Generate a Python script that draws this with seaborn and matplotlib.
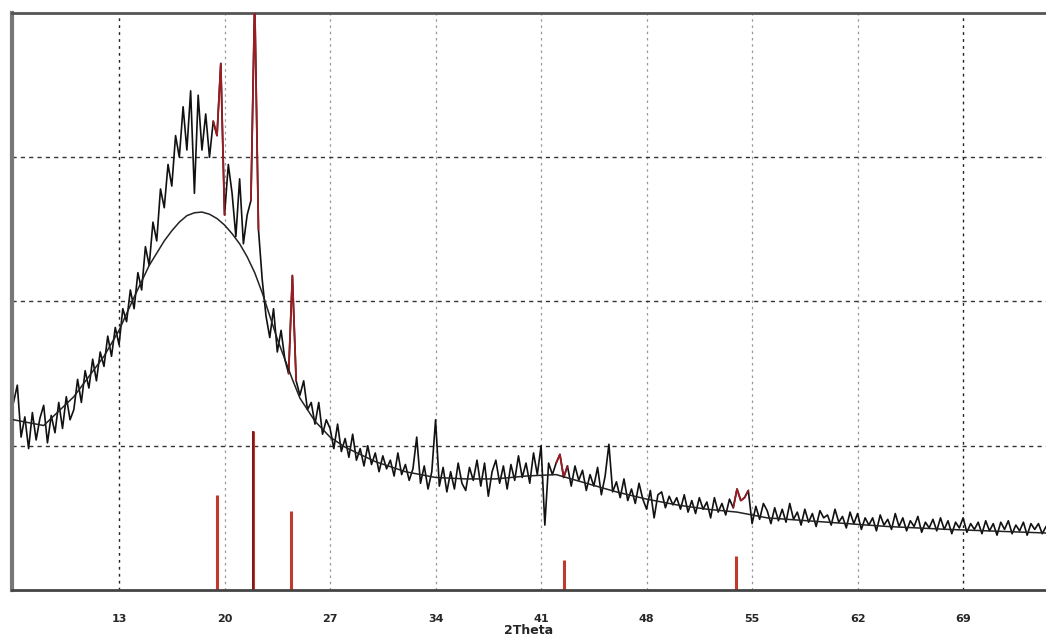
import numpy as np
import pandas as pd
import seaborn as sns
import matplotlib.pyplot as plt

# XRD pattern, counts every 0.25 deg from 6.0 to 74.5
start_2theta = 6.0
step_2theta = 0.25
counts = [
    1300, 1420, 1060, 1200,   # 6
    980, 1230, 1040, 1190,    # 7
    1280, 1020, 1210, 1090,   # 8
    1300, 1120, 1340, 1180,   # 9
    1250, 1460, 1300, 1520,   # 10
    1400, 1600, 1450, 1650,   # 11
    1550, 1760, 1620, 1820,   # 12
    1700, 1950, 1860, 2080,   # 13
    1950, 2200, 2080, 2380,   # 14
    2250, 2550, 2420, 2780,   # 15
    2650, 2950, 2800, 3150,   # 16
    3000, 3350, 3050, 3460,   # 17
    2750, 3430, 3050, 3300,   # 18
    3000, 3250, 3150, 3650,   # 19
    2600, 2950, 2750, 2450,   # 20
    2850, 2400, 2600, 2700,   # 21
    4100, 2500, 2150, 1900,   # 22
    1750, 1950, 1650, 1800,   # 23
    1600, 1500, 2180, 1450,   # 24
    1350, 1450, 1250, 1300,   # 25
    1150, 1300, 1080, 1180,   # 26
    1120, 980, 1150, 960,     # 27
    1050, 920, 1080, 900,     # 28
    980, 860, 1000, 870,      # 29
    950, 820, 930, 840,       # 30
    900, 790, 950, 800,       # 31
    870, 760, 840, 1060,      # 32
    740, 860, 700, 820,       # 33
    1180, 720, 850, 680,      # 34
    820, 700, 880, 740,       # 35
    690, 850, 760, 900,       # 36
    720, 880, 650, 820,       # 37
    900, 740, 860, 700,       # 38
    870, 760, 930, 780,       # 39
    880, 740, 950, 800,       # 40
    1000, 450, 880, 800,      # 41
    880, 940, 780, 860,       # 42
    720, 860, 760, 830,       # 43
    690, 800, 720, 850,       # 44
    660, 790, 1010, 680,      # 45
    750, 640, 770, 620,       # 46
    700, 600, 740, 630,       # 47
    560, 690, 500, 660,       # 48
    680, 570, 650, 590,       # 49
    640, 560, 660, 540,       # 50
    620, 530, 640, 560,       # 51
    610, 500, 640, 540,       # 52
    600, 520, 630, 570,       # 53
    700, 620, 640, 690,       # 54
    460, 580, 490, 600,       # 55
    550, 460, 570, 480,       # 56
    560, 470, 600, 490,       # 57
    540, 450, 560, 470,       # 58
    530, 440, 550, 500,       # 59
    520, 450, 560, 470,       # 60
    510, 430, 540, 460,       # 61
    530, 420, 500, 450,       # 62
    500, 410, 520, 450,       # 63
    490, 420, 530, 440,       # 64
    500, 410, 480, 440,       # 65
    510, 400, 470, 430,       # 66
    490, 410, 500, 420,       # 67
    480, 390, 470, 430,       # 68
    500, 400, 460, 420,       # 69
    470, 390, 480, 410,       # 70
    460, 380, 470, 420,       # 71
    480, 390, 450, 410,       # 72
    470, 380, 460, 420,       # 73
    460, 390, 440,            # 74
]

# smooth amorphous background
bg_2theta = [6, 8, 10, 12, 13, 14, 15, 16, 16.5, 17, 17.5, 18, 18.5, 19, 19.5, 20,
             20.5, 21, 21.5, 22, 22.5, 23, 23.5, 24, 24.5, 25, 26, 27, 28, 30, 32,
             34, 36, 38, 40, 42, 44, 46, 48, 50, 52, 54, 56, 60, 64, 68, 74.5]
bg_counts = [1180, 1140, 1340, 1620, 1800, 2030, 2250, 2420, 2490, 2550, 2595, 2615,
             2620, 2605, 2575, 2530, 2470, 2400, 2310, 2200, 2060, 1900, 1740, 1600,
             1460, 1330, 1170, 1060, 990, 890, 820, 780, 770, 770, 790, 800, 740,
             680, 630, 590, 560, 540, 500, 470, 440, 420, 395]

# reference phase sticks
ref_2theta = [19.5, 21.9, 24.4, 42.5, 53.9]
ref_counts = [660, 1100, 550, 210, 235]

# parts of the pattern drawn in red (matched peaks)
peak_ranges = [(19.25, 20.0), (21.75, 22.25), (24.25, 24.75), (42.0, 42.75), (53.75, 54.75)]

tick_vals = [13, 20, 27, 34, 41, 48, 55, 62, 69]

df = pd.DataFrame({"2Theta": start_2theta + step_2theta * np.arange(len(counts)),
                   "counts": counts})
bg = pd.DataFrame({"2Theta": bg_2theta, "counts": bg_counts})

sns.set_style("white")
fig = plt.figure(figsize=(10.46, 6.37), dpi=100)
ax = fig.add_axes([0.0115, 0.0738, 0.9885, 0.9058])

# grid
for t in tick_vals:
    dark = t in (13, 69)
    ax.axvline(t, color="#222222" if dark else "#999999", ls=(0, (2, 3)),
               lw=1.0 if dark else 0.9, zorder=0)
for g in [1000, 2000, 3000]:
    ax.axhline(g, color="#333333", ls=(0, (3, 3)), lw=1.0, zorder=0)

ax.vlines(ref_2theta, 0, ref_counts, colors="#c0392b", lw=2.2, zorder=1)
ax.vlines([21.9], 0, [1100], colors="#7a0f14", lw=1.2, zorder=1)

sns.lineplot(data=df, x="2Theta", y="counts", color="#111111", lw=1.2, ax=ax, zorder=2)
for lo, hi in peak_ranges:
    part = df[(df["2Theta"] >= lo) & (df["2Theta"] <= hi)]
    sns.lineplot(data=part, x="2Theta", y="counts", color="#9b1c22", lw=1.3, ax=ax, zorder=3)
sns.lineplot(data=bg, x="2Theta", y="counts", color="#222222", lw=1.1, ax=ax, zorder=4)

ax.set_xlim(5.9, 74.5)
ax.set_ylim(0, 4000)
ax.set_xticks(tick_vals)
ax.set_xticklabels([str(t) for t in tick_vals], fontsize=8, fontweight="bold")
ax.set_yticks([])
ax.tick_params(axis="x", direction="out", length=8, width=1, color="#333333", pad=9)
ax.set_xlabel("2Theta", fontsize=9, fontweight="bold", labelpad=0)
ax.set_ylabel("")

for side in ["left", "bottom", "top"]:
    ax.spines[side].set_visible(True)
ax.spines["left"].set_color("#777777")
ax.spines["left"].set_linewidth(3)
ax.spines["bottom"].set_color("#444444")
ax.spines["bottom"].set_linewidth(2)
ax.spines["top"].set_color("#555555")
ax.spines["top"].set_linewidth(2)
ax.spines["right"].set_visible(False)

fig.savefig("out.png", dpi=100)
